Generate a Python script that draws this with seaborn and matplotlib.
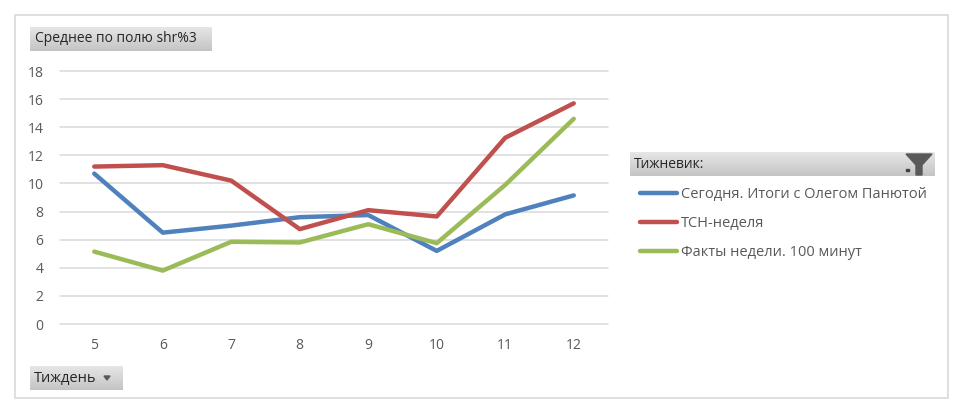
import numpy as np
import pandas as pd
import matplotlib
matplotlib.use("Agg")
import matplotlib.pyplot as plt
from matplotlib.patches import Rectangle, Polygon
import seaborn as sns

weeks = [5, 6, 7, 8, 9, 10, 11, 12]
series_names = ["Сегодня. Итоги с Олегом Панютой", "ТСН-неделя", "Факты недели. 100 минут"]
segodnya = [10.7, 6.5, 7.0, 7.6, 7.75, 5.2, 7.8, 9.15]
tsn = [11.2, 11.3, 10.2, 6.75, 8.1, 7.65, 13.25, 15.7]
fakty = [5.15, 3.8, 5.85, 5.8, 7.1, 5.75, 9.9, 14.6]
colors = ["#4F81BD", "#C0504D", "#9BBB59"]
y_ticks = [0, 2, 4, 6, 8, 10, 12, 14, 16, 18]

df = pd.DataFrame({
    "week": weeks * 3,
    "value": segodnya + tsn + fakty,
    "series": [series_names[0]] * 8 + [series_names[1]] * 8 + [series_names[2]] * 8,
})

sns.set_style("white")
plt.rcParams['font.family'] = ['Open Sans', 'DejaVu Sans']

W, H = 965, 411
fig = plt.figure(figsize=(W / 100, H / 100), dpi=100)


def fx(px):
    return px / W


def fy(py):
    return 1 - py / H


# outer chart frame
fig.patches.append(Rectangle((fx(15), fy(398)), fx(948) - fx(15), fy(15) - fy(398),
                             transform=fig.transFigure, fill=False,
                             edgecolor="#D9D9D9", linewidth=1.2))

ax = fig.add_axes([fx(60), fy(324), fx(608) - fx(60), fy(71) - fy(324)])
sns.lineplot(data=df, x="week", y="value", hue="series", palette=colors,
             linewidth=3.2, ax=ax, legend=True)
ax.set_xlim(4.5, 12.5)
ax.set_ylim(0, 18)
ax.set_yticks(y_ticks)
ax.set_xticks(weeks)
ax.grid(axis="y", color="#D9D9D9", linewidth=1.1)
for gl in ax.get_ygridlines():
    gl.set_clip_on(False)
ax.set_axisbelow(True)
for s in ax.spines.values():
    s.set_visible(False)
ax.tick_params(axis="both", length=0, labelsize=10, colors="#595959")
ax.tick_params(axis="y", pad=12)
ax.tick_params(axis="x", pad=10)
ax.set_xlabel("")
ax.set_ylabel("")

handles, labels = ax.get_legend_handles_labels()
ax.legend(handles, labels, loc="upper left", bbox_to_anchor=(fx(627), fy(174)),
          bbox_transform=fig.transFigure, frameon=False, fontsize=10.5,
          handlelength=2.5, handletextpad=0.3, labelspacing=0.95,
          labelcolor="#595959")


def gray_button(x0, y0, x1, y1):
    bax = fig.add_axes([fx(x0), fy(y1), fx(x1) - fx(x0), fy(y0) - fy(y1)])
    grad = np.linspace(0, 1, 64).reshape(-1, 1)
    bax.imshow(grad, aspect="auto", cmap=matplotlib.colors.LinearSegmentedColormap.from_list(
        "g", ["#E6E6E6", "#C4C4C4"]), extent=[0, 1, 0, 1], origin="upper")
    bax.set_axis_off()
    return bax


gray_button(30, 27, 212, 51)
fig.text(fx(35), fy(39), "Среднее по полю shr%3", fontsize=10, color="#262626", va="center")

gray_button(30, 366, 122, 390)
fig.text(fx(34), fy(378), "Тиждень", fontsize=10.5, color="#262626", va="center")
fig.patches.append(Polygon([[fx(104), fy(376)], [fx(110), fy(376)], [fx(107), fy(380)]],
                           closed=True, transform=fig.transFigure, color="#595959"))

gray_button(630, 152, 935, 176)
fig.text(fx(634), fy(164), "Тижневик:", fontsize=10, color="#262626", va="center")
# funnel icon
fig.patches.append(Polygon([[fx(906), fy(154)], [fx(932), fy(154)], [fx(922), fy(165)],
                            [fx(922), fy(175)], [fx(916), fy(175)], [fx(916), fy(165)]],
                           closed=True, transform=fig.transFigure, color="#595959"))
fig.patches.append(Rectangle((fx(906), fy(171)), fx(3), fy(169) - fy(171),
                             transform=fig.transFigure, color="#404040"))

fig.savefig("out.png", dpi=100)
